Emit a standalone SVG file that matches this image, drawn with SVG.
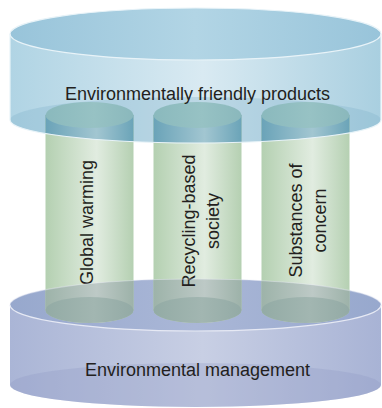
<svg xmlns="http://www.w3.org/2000/svg" width="382" height="408" viewBox="0 0 382 408">
  <defs>
    <!-- upper platform (light blue) -->
    <linearGradient id="topSide" x1="0" y1="0" x2="1" y2="0">
      <stop offset="0" stop-color="#b0d4e4"/>
      <stop offset="0.52" stop-color="#d9eaf2"/>
      <stop offset="1" stop-color="#a9cfe0"/>
    </linearGradient>
    <linearGradient id="topFace" x1="0" y1="0" x2="1" y2="0">
      <stop offset="0" stop-color="#98c4da"/>
      <stop offset="0.5" stop-color="#b2d5e5"/>
      <stop offset="1" stop-color="#98c4da"/>
    </linearGradient>
    <!-- lower platform (lavender) -->
    <linearGradient id="baseSide" x1="0" y1="0" x2="1" y2="0">
      <stop offset="0" stop-color="#aab5d6"/>
      <stop offset="0.52" stop-color="#c8cfe4"/>
      <stop offset="1" stop-color="#a8b3d5"/>
    </linearGradient>
    <linearGradient id="baseFace" x1="0" y1="0" x2="1" y2="0">
      <stop offset="0" stop-color="#97a8cd"/>
      <stop offset="0.5" stop-color="#aab7d7"/>
      <stop offset="1" stop-color="#97a8cd"/>
    </linearGradient>
    <!-- pillars -->
    <linearGradient id="pillarBody" x1="0" y1="0" x2="1" y2="0">
      <stop offset="0" stop-color="#b4d0b1"/>
      <stop offset="0.58" stop-color="#e1ece0"/>
      <stop offset="1" stop-color="#b5d0b2"/>
    </linearGradient>
    <linearGradient id="pillarInTop" x1="0" y1="0" x2="1" y2="0">
      <stop offset="0" stop-color="#6aa3b8"/>
      <stop offset="0.58" stop-color="#a2c6d1"/>
      <stop offset="1" stop-color="#6ba4b8"/>
    </linearGradient>
    <linearGradient id="pillarCap" x1="0" y1="0" x2="1" y2="0">
      <stop offset="0" stop-color="#8ab9bd"/>
      <stop offset="0.55" stop-color="#97c2c4"/>
      <stop offset="1" stop-color="#8ab8bc"/>
    </linearGradient>
    <linearGradient id="pillarInBase" x1="0" y1="0" x2="1" y2="0">
      <stop offset="0" stop-color="#9db3a9"/>
      <stop offset="0.58" stop-color="#bdc9c6"/>
      <stop offset="1" stop-color="#9db2a9"/>
    </linearGradient>
    <linearGradient id="pillarFoot" x1="0" y1="0" x2="1" y2="0">
      <stop offset="0" stop-color="#93aba5"/>
      <stop offset="0.55" stop-color="#a2b6b1"/>
      <stop offset="1" stop-color="#93aaa5"/>
    </linearGradient>
    <!-- silhouettes of the two platforms -->
    <clipPath id="topClip">
      <path d="M10,34 V120 A185.5,23 0 0 0 381,120 V34 Z"/>
    </clipPath>
    <clipPath id="baseClip">
      <path d="M10,305 A185.5,26 0 0 1 381,305 V385 A185.5,22 0 0 1 10,385 Z"/>
    </clipPath>
  </defs>
  <style>
    .label { font-family: "Liberation Sans", Arial, sans-serif; font-size: 18px; fill: #231f20; }
    .rimTop { fill: none; stroke: #e8f3f8; stroke-width: 1.2; }
    .rimBase { fill: none; stroke: #e6e9f4; stroke-width: 1.2; }
  </style>

  <!-- lower platform -->
  <g id="platform-environmental-management">
    <path d="M10,305 V385 A185.5,22 0 0 0 381,385 V305 Z" fill="url(#baseSide)"/>
    <ellipse cx="195.5" cy="385" rx="185.5" ry="22" fill="#8f97c2" opacity="0.3"/>
    <ellipse cx="195.5" cy="305" rx="185.5" ry="26" fill="url(#baseFace)"/>
  </g>

  <!-- upper platform -->
  <g id="platform-environmentally-friendly-products">
    <path d="M10,34 V120 A185.5,23 0 0 0 381,120 V34 Z" fill="url(#topSide)"/>
    <ellipse cx="195.5" cy="120" rx="185.5" ry="23" fill="#7fb2cb" opacity="0.32"/>
    <ellipse cx="195.5" cy="34" rx="185.5" ry="26" fill="url(#topFace)"/>
  </g>

  <!-- pillar: Global warming -->
  <g id="pillar-global-warming">
    <path d="M45.5,115 V310 A44,13 0 0 0 133.5,310 V115 Z" fill="url(#pillarBody)"/>
    <g clip-path="url(#topClip)">
      <rect x="45.5" y="115" width="88" height="40" fill="url(#pillarInTop)"/>
      <ellipse cx="89.5" cy="115" rx="44" ry="13" fill="url(#pillarCap)"/>
    </g>
    <g clip-path="url(#baseClip)">
      <path d="M45.5,270 V310 A44,13 0 0 0 133.5,310 V270 Z" fill="url(#pillarInBase)"/>
      <ellipse cx="89.5" cy="310" rx="44" ry="13" fill="url(#pillarFoot)"/>
    </g>
    <text class="label" text-anchor="middle" transform="translate(92.5,222.5) rotate(-90)">Global warming</text>
  </g>

  <!-- pillar: Recycling-based society -->
  <g id="pillar-recycling-based-society">
    <path d="M153.5,115 V310 A44,13 0 0 0 241.5,310 V115 Z" fill="url(#pillarBody)"/>
    <g clip-path="url(#topClip)">
      <rect x="153.5" y="115" width="88" height="40" fill="url(#pillarInTop)"/>
      <ellipse cx="197.5" cy="115" rx="44" ry="13" fill="url(#pillarCap)"/>
    </g>
    <g clip-path="url(#baseClip)">
      <path d="M153.5,270 V310 A44,13 0 0 0 241.5,310 V270 Z" fill="url(#pillarInBase)"/>
      <ellipse cx="197.5" cy="310" rx="44" ry="13" fill="url(#pillarFoot)"/>
    </g>
    <text class="label" text-anchor="middle" transform="translate(195,221) rotate(-90)">Recycling-based</text>
    <text class="label" text-anchor="middle" transform="translate(218.5,221) rotate(-90)">society</text>
  </g>

  <!-- pillar: Substances of concern -->
  <g id="pillar-substances-of-concern">
    <path d="M261.5,115 V310 A44,13 0 0 0 349.5,310 V115 Z" fill="url(#pillarBody)"/>
    <g clip-path="url(#topClip)">
      <rect x="261.5" y="115" width="88" height="40" fill="url(#pillarInTop)"/>
      <ellipse cx="305.5" cy="115" rx="44" ry="13" fill="url(#pillarCap)"/>
    </g>
    <g clip-path="url(#baseClip)">
      <path d="M261.5,270 V310 A44,13 0 0 0 349.5,310 V270 Z" fill="url(#pillarInBase)"/>
      <ellipse cx="305.5" cy="310" rx="44" ry="13" fill="url(#pillarFoot)"/>
    </g>
    <text class="label" text-anchor="middle" transform="translate(301.5,220.5) rotate(-90)">Substances of</text>
    <text class="label" text-anchor="middle" transform="translate(325.5,220.5) rotate(-90)">concern</text>
  </g>

  <!-- platform rims and titles, in front of the pillars -->
  <g id="platform-rims">
    <ellipse class="rimTop" cx="195.5" cy="34" rx="185.5" ry="26"/>
    <path class="rimTop" d="M10,34 V120 A185.5,23 0 0 0 381,120 V34"/>
    <path class="rimBase" d="M10,305 A185.5,26 0 0 0 381,305"/>
    <path class="rimBase" d="M10,305 A185.5,26 0 0 1 381,305" stroke-opacity="0.45"/>
  </g>
  <text class="label" text-anchor="middle" x="197.5" y="100">Environmentally friendly products</text>
  <text class="label" text-anchor="middle" x="197.5" y="376">Environmental management</text>
</svg>
